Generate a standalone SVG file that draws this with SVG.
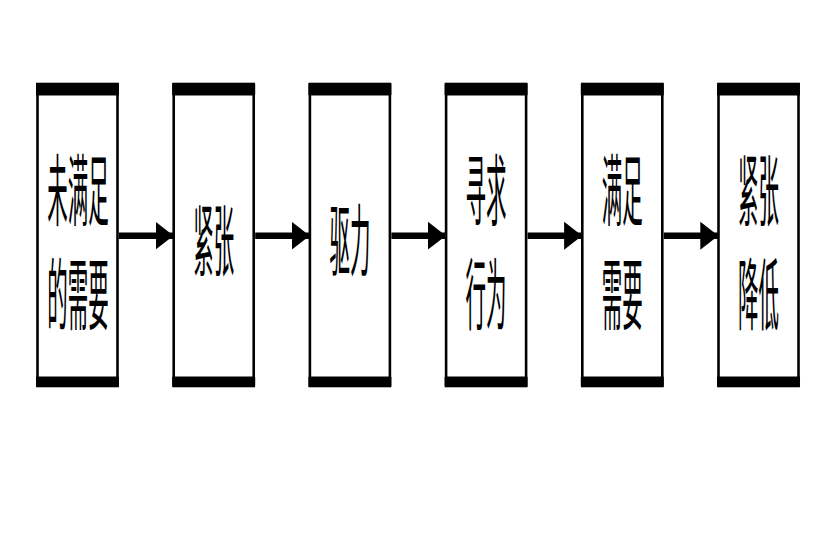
<svg xmlns="http://www.w3.org/2000/svg" width="834" height="539" viewBox="0 0 834 539">
<defs>
<style>
.box{fill:#fff;stroke:#000;stroke-width:2.6}
.bar{fill:#000}
.t{font-family:"Noto Sans CJK SC","Noto Sans",sans-serif;font-size:78px;fill:#000;text-anchor:middle;dominant-baseline:central}
.ln{stroke:#000;stroke-width:6.5;fill:none}
</style>
<g id="proto">
<rect class="box" x="1.5" y="84" width="80" height="302"/>
<rect class="bar" x="0" y="83" width="83" height="12.5" rx="1"/>
<rect class="bar" x="0" y="376.5" width="83" height="10.5" rx="1"/>
</g>
<marker id="ah" markerUnits="userSpaceOnUse" markerWidth="20" markerHeight="28" refX="18" refY="14" orient="auto"><path d="M0,0 L18,14 L0,28 Z" fill="#000"/></marker>
</defs>
<rect width="834" height="539" fill="#fff"/>
<g id="n1">
<use href="#proto" x="36"/>
<g transform="translate(78,185.5) scale(0.263,1)"><text class="t" x="0" y="0">未满足</text></g>
<g transform="translate(78,289.5) scale(0.263,1)"><text class="t" x="0" y="0">的需要</text></g>
</g>
<g id="n2">
<use href="#proto" x="172.2"/>
<g transform="translate(213.7,236) scale(0.263,1)"><text class="t" x="0" y="0">紧张</text></g>
</g>
<g id="n3">
<use href="#proto" x="308.4"/>
<g transform="translate(349.9,236) scale(0.263,1)"><text class="t" x="0" y="0">驱力</text></g>
</g>
<g id="n4">
<use href="#proto" x="444.6"/>
<g transform="translate(486.1,185.5) scale(0.263,1)"><text class="t" x="0" y="0">寻求</text></g>
<g transform="translate(486.1,289.5) scale(0.263,1)"><text class="t" x="0" y="0">行为</text></g>
</g>
<g id="n5">
<use href="#proto" x="580.8"/>
<g transform="translate(622.3,185.5) scale(0.263,1)"><text class="t" x="0" y="0">满足</text></g>
<g transform="translate(622.3,289.5) scale(0.263,1)"><text class="t" x="0" y="0">需要</text></g>
</g>
<g id="n6">
<use href="#proto" x="717"/>
<g transform="translate(758.5,185.5) scale(0.263,1)"><text class="t" x="0" y="0">紧张</text></g>
<g transform="translate(758.5,289.5) scale(0.263,1)"><text class="t" x="0" y="0">降低</text></g>
</g>
<g id="connectors">
<line class="ln" x1="119" y1="235.7" x2="173.5" y2="235.7" marker-end="url(#ah)"/>
<line class="ln" x1="255.2" y1="235.7" x2="309.7" y2="235.7" marker-end="url(#ah)"/>
<line class="ln" x1="391.4" y1="235.7" x2="445.9" y2="235.7" marker-end="url(#ah)"/>
<line class="ln" x1="527.6" y1="235.7" x2="582.1" y2="235.7" marker-end="url(#ah)"/>
<line class="ln" x1="663.8" y1="235.7" x2="718.3" y2="235.7" marker-end="url(#ah)"/>
</g>
</svg>
